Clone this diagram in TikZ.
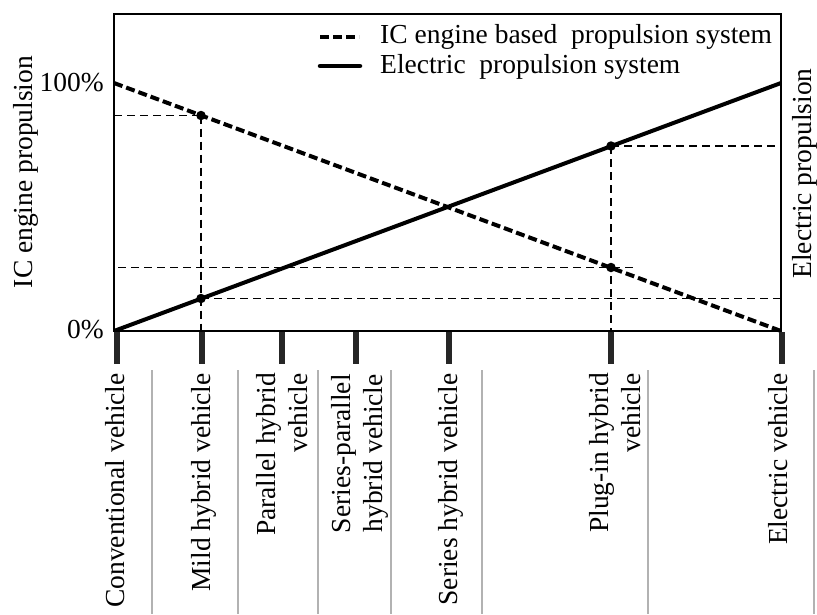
\documentclass[tikz,border=0pt]{standalone}
\usepackage{fontspec}
\setmainfont{Liberation Serif}
\begin{document}
\begin{tikzpicture}[x=1pt,y=-1pt,
  lbl/.style={font=\fontsize{27.5}{32}\selectfont, inner sep=0pt},
  vlbl/.style={lbl, rotate=90, anchor=base east, align=right},
  icline/.style={line width=4pt, dash pattern=on 9pt off 4pt},
  elline/.style={line width=4pt},
  guide/.style={line width=1.2pt, dash pattern=on 8pt off 5pt},
  tickbar/.style={line width=6pt, draw=black!85},
  sepline/.style={line width=2.5pt, draw=gray!60},
  dot/.style={circle, fill=black, inner sep=0pt, minimum size=9.5pt}
]
\useasboundingbox (0,0) rectangle (817,614);
% coordinates
\coordinate (ic0) at (114,83);
\coordinate (ic1) at (781,331);
\coordinate (el0) at (114,331);
\coordinate (el1) at (781,83);
\coordinate (mi) at (201,115.5);
\coordinate (me) at (201,298.5);
\coordinate (pe) at (611,146);
\coordinate (pi) at (611,267.5);
% guide dashed lines
\draw[guide] (114,115.5) -- (mi);
\draw[guide] (mi) -- (201,331);
\draw[guide] (me) -- (781,298.5);
\draw[guide] (118,267.5) -- (635,267.5);
\draw[guide] (pe) -- (781,146);
\draw[guide] (pe) -- (611,331);
% frame
\draw[line width=1.3pt] (114,14) rectangle (781,331);
% main lines
\draw[icline] (ic0) -- (ic1);
\draw[elline] (el0) -- (el1);
\node[dot] at (mi) {};
\node[dot] at (me) {};
\node[dot] at (pe) {};
\node[dot] at (pi) {};
% legend
\draw[line width=4pt, dash pattern=on 9pt off 4pt] (320,37) -- (359,37);
\draw[line width=4.5pt, line cap=round] (320,66) -- (360,66);
\node[lbl, anchor=base west] (leg1) at (380,43) {IC engine based\ \ propulsion system};
\node[lbl, anchor=base west] (leg2) at (380,73) {Electric\ \ propulsion system};
% axis labels
\node[lbl, anchor=base east] (p100) at (104,91) {100\%};
\node[lbl, anchor=base east] (p0) at (104,338) {0\%};
\node[lbl, rotate=90, anchor=base] (yl) at (32,172) {IC engine propulsion};
\node[lbl, rotate=90, anchor=base] (yr) at (811.5,173.5) {Electric propulsion};
% ticks
\foreach \x in {117,202,282,356,449,611,782} \draw[tickbar] (\x,332) -- (\x,364);
% separators
\foreach \x in {152,238,318,391,482,648,814} \draw[sepline] (\x,370) -- (\x,614);
% category labels
\node[vlbl] (c1) at (124,373) {Conventional vehicle};
\node[vlbl] (c2) at (210.5,373) {Mild hybrid vehicle};
\node[vlbl] (c3) at (307,373) {Parallel hybrid\\vehicle};
\node[vlbl] (c4) at (382.7,374) {Series-parallel\\hybrid vehicle};
\node[vlbl] (c5) at (457,373) {Series hybrid vehicle};
\node[vlbl] (c6) at (640,373) {Plug-in hybrid\\vehicle};
\node[vlbl] (c7) at (787,373) {Electric vehicle};
\end{tikzpicture}
\end{document}
